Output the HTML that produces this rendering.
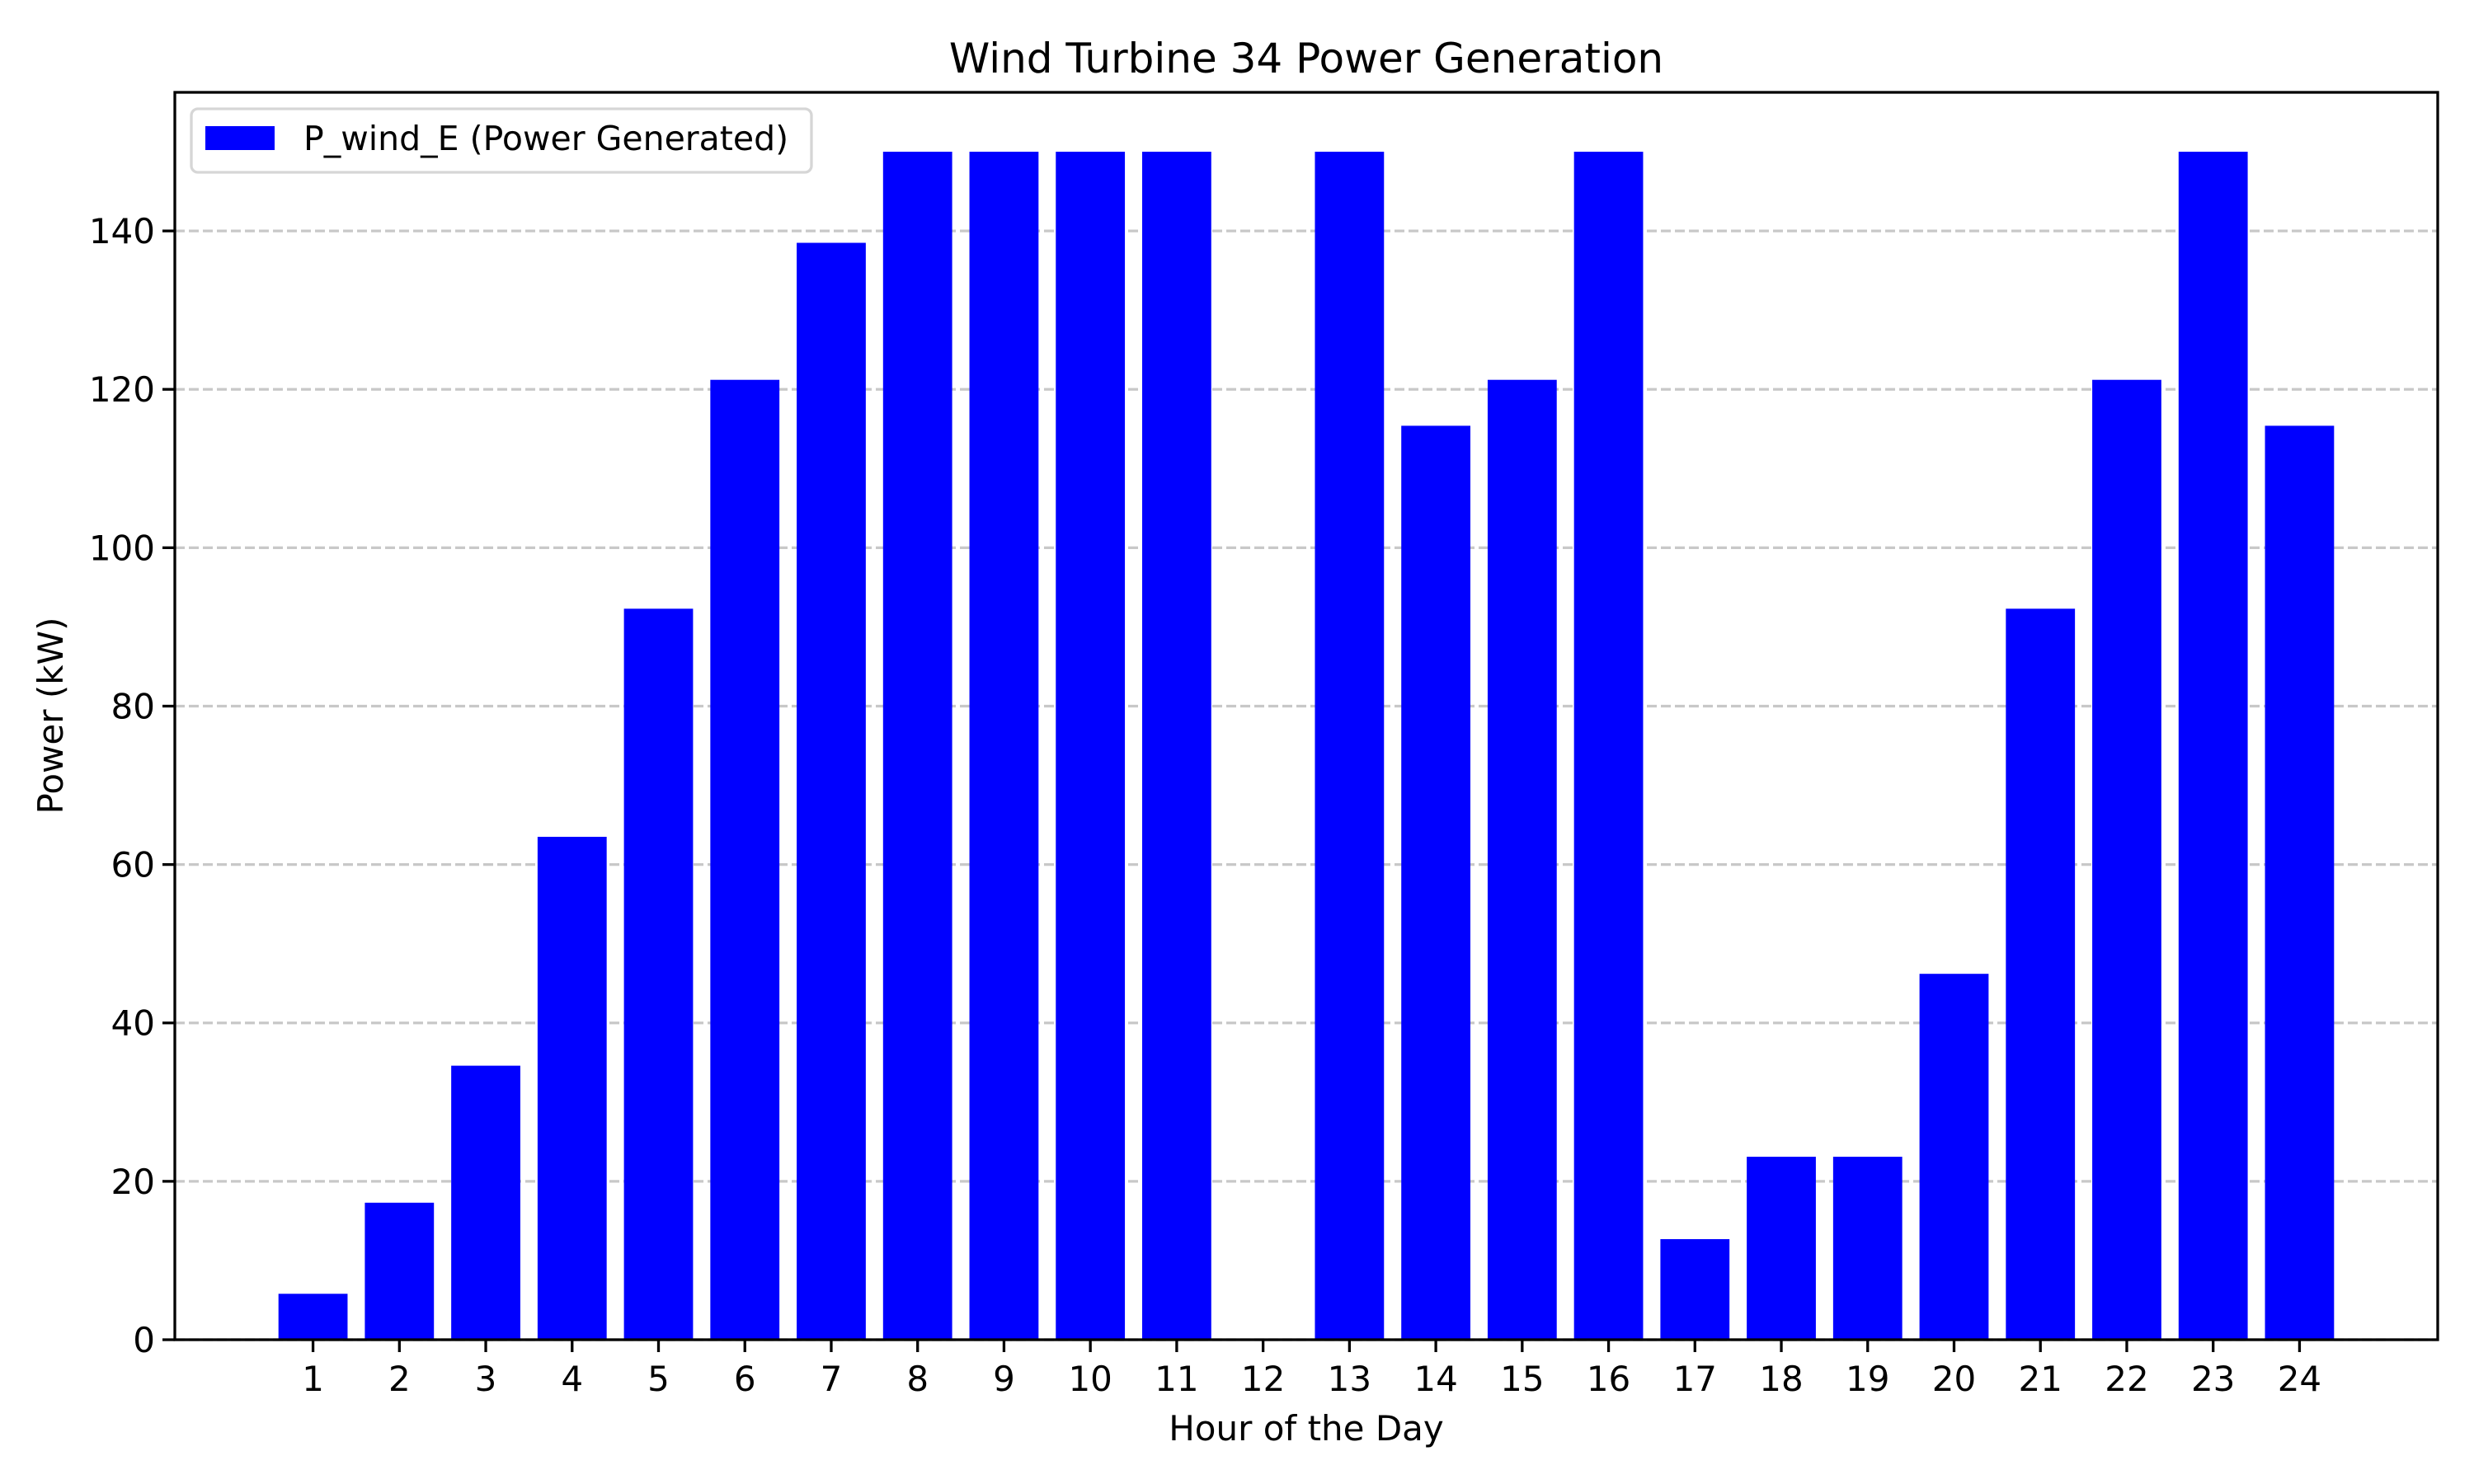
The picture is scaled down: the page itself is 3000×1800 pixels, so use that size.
<!DOCTYPE html>
<html><head><meta charset="utf-8"><style>
html,body{margin:0;padding:0;background:#fff;}
svg{display:block;font-family:"DejaVu Sans","Liberation Sans",sans-serif;}
</style></head><body>
<svg id="chart" width="3000" height="1800" viewBox="0 0 3000 1800" xmlns="http://www.w3.org/2000/svg">
<rect width="3000" height="1800" fill="#fff"/>
<text x="1584" y="88" text-anchor="middle" font-size="50">Wind Turbine 34 Power Generation</text>
<g id="grid"></g>
<g id="bars"></g>
<rect x="212" y="112" width="2744" height="1513" fill="none" stroke="#000" stroke-width="3.3"/>
<g id="xticks"></g>
<g id="yticks"></g>
<text x="1584" y="1747" text-anchor="middle" font-size="42">Hour of the Day</text>
<text transform="translate(76,868) rotate(-90)" text-anchor="middle" font-size="42">Power (kW)</text>
<g>
<rect x="232" y="132" width="752" height="77" rx="8" fill="#fff" fill-opacity="0.8" stroke="#d6d6d6" stroke-width="3.3"/>
<rect x="249" y="153" width="84" height="29" fill="#0000ff"/>
<text x="368" y="182" font-size="41">P_wind_E (Power Generated)</text>
</g>
</svg>
<script>
const hours = [1,2,3,4,5,6,7,8,9,10,11,12,13,14,15,16,17,18,19,20,21,22,23,24];
const power = [5.8,17.3,34.6,63.5,92.3,121.2,138.5,150,150,150,150,0,150,115.4,121.2,150,12.7,23.1,23.1,46.2,92.3,121.2,150,115.4];
const yTicks = [0,20,40,60,80,100,120,140];

const NS = "http://www.w3.org/2000/svg";
const L = 212, R = 2956, T = 112, B = 1625;
const yMin = 0, yMax = 157.5;
function xs(v){ return L + (v - (-0.6)) / (25.6 - (-0.6)) * (R - L); }
function ys(v){ return B - (v - yMin) / (yMax - yMin) * (B - T); }
function mk(tag, attrs, parent){
  const e = document.createElementNS(NS, tag);
  for (const k in attrs) e.setAttribute(k, attrs[k]);
  parent.appendChild(e); return e;
}
const grid = document.getElementById('grid');
const yt = document.getElementById('yticks');
yTicks.forEach(v => {
  const y = ys(v);
  const g = mk('line', {x1:L, x2:R, y1:y, y2:y, stroke:'#b0b0b0', 'stroke-opacity':0.7, 'stroke-width':3.3, 'stroke-dasharray':'12,5'}, grid);
  
  
  const t = mk('line', {x1:L-15, x2:L, y1:y, y2:y, stroke:'#000', 'stroke-width':3.3}, yt);
  
  
  const lb = mk('text', {x:L-24, y:y+15, 'text-anchor':'end', 'font-size':42}, yt);
  lb.textContent = v;
  
  
});
const bars = document.getElementById('bars');
const xt = document.getElementById('xticks');
const bw = (xs(1.4) - xs(0.6));
hours.forEach((h, i) => {
  const cx = xs(h);
  const v = power[i];
  if (v > 0) {
    const r = mk('rect', {x:cx - bw/2, y:ys(v), width:bw, height:ys(0) - ys(v), fill:'#0000ff'}, bars);
    
    
  }
  const t = mk('line', {x1:cx, x2:cx, y1:B, y2:B+15, stroke:'#000', 'stroke-width':3.3}, xt);
  
  
  const lb = mk('text', {x:cx, y:1687, 'text-anchor':'middle', 'font-size':42}, xt);
  lb.textContent = h;
  
  
});
</script>
</body></html>
